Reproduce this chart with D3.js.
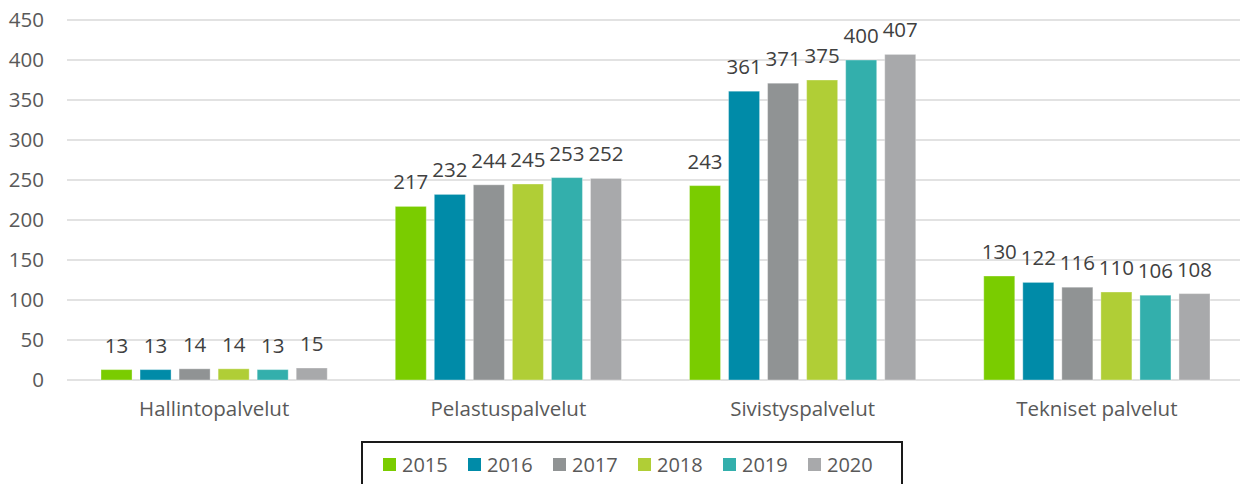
<!DOCTYPE html>
<html>
<head>
<meta charset="utf-8">
<script src="https://cdn.jsdelivr.net/npm/d3@7"></script>
<style>
  body { margin: 0; background: #fff; }
  svg { font-family: "Open Sans", sans-serif; }
</style>
</head>
<body>
<svg id="chart" width="1242" height="484"></svg>
<script>
const categories = ['Hallintopalvelut', 'Pelastuspalvelut', 'Sivistyspalvelut', 'Tekniset palvelut'];
const years = ['2015', '2016', '2017', '2018', '2019', '2020'];
const values2015 = [13, 217, 243, 130];
const values2016 = [13, 232, 361, 122];
const values2017 = [14, 244, 371, 116];
const values2018 = [14, 245, 375, 110];
const values2019 = [13, 253, 400, 106];
const values2020 = [15, 252, 407, 108];
const yTicks = [0, 50, 100, 150, 200, 250, 300, 350, 400, 450];
const colors = ['#7acc00', '#008ba8', '#909394', '#b0ce36', '#33afac', '#a8a9ab'];

const series = [values2015, values2016, values2017, values2018, values2019, values2020];

const svg = d3.select('#chart');
const plotLeft = 67, plotRight = 1244, plotTop = 20, plotBottom = 380;
const gridRight = 1240;

const x0 = d3.scaleBand().domain(categories).range([plotLeft, plotRight]);
const x1 = d3.scaleBand().domain(years)
  .range([34, x0.bandwidth() - 34])
  .paddingInner(8 / 39);
const y = d3.scaleLinear().domain([0, 450]).range([plotBottom, plotTop]);
const color = d3.scaleOrdinal().domain(years).range(colors);

// gridlines
svg.append('g').selectAll('line').data(yTicks).enter().append('line')
  .attr('x1', plotLeft).attr('x2', gridRight)
  .attr('y1', d => y(d)).attr('y2', d => y(d))
  .style('stroke', '#d9d9d9')
  .style('stroke-width', 1.3);

// y axis labels
const yAxis = d3.axisLeft(y).tickValues(yTicks).tickSize(0).tickPadding(0);
svg.append('g')
  .attr('transform', `translate(44,0)`)
  .call(yAxis)
  .call(g => g.select('.domain').remove())
  .selectAll('text')
  .style('font-family', '"Open Sans", sans-serif')
  .style('font-size', '20.5px')
  .style('fill', '#595959');

// bars
const groups = svg.append('g').selectAll('g').data(categories).enter().append('g')
  .attr('transform', d => `translate(${x0(d)},0)`);

groups.selectAll('rect')
  .data((c, i) => years.map((yr, j) => ({ year: yr, value: series[j][i] })))
  .enter().append('rect')
  .attr('x', d => x1(d.year))
  .attr('width', x1.bandwidth())
  .attr('y', d => y(d.value))
  .attr('height', d => y(0) - y(d.value))
  .attr('fill', d => color(d.year))
  .style('stroke', 'rgba(255,255,255,0.35)')
  .style('stroke-width', 1);

groups.selectAll('text')
  .data((c, i) => years.map((yr, j) => ({ year: yr, value: series[j][i] })))
  .enter().append('text')
  .attr('x', d => x1(d.year) + x1.bandwidth() / 2)
  .attr('y', d => y(d.value) - 17)
  .attr('text-anchor', 'middle')
  .style('font-size', '20.5px')
  .style('fill', '#404040')
  .text(d => d.value);

// category labels
const xAxis = d3.axisBottom(x0).tickSize(0).tickPadding(0);
svg.append('g')
  .attr('transform', `translate(0,${plotBottom + 21})`)
  .call(xAxis)
  .call(g => g.select('.domain').remove())
  .selectAll('text')
  .style('font-family', '"Open Sans", sans-serif')
  .style('font-size', '20.5px')
  .style('fill', '#595959');

// legend
const legend = svg.append('g');
legend.append('rect')
  .attr('x', 362).attr('y', 442)
  .attr('width', 540).attr('height', 60)
  .attr('fill', 'none')
  .style('stroke', '#1a1a1a')
  .style('stroke-width', 2);

const lx = d3.scaleBand().domain(years).range([383, 383 + 85 * 6]);
const item = legend.selectAll('g.item').data(years).enter().append('g')
  .attr('class', 'item')
  .attr('transform', d => `translate(${lx(d)},458)`);
item.append('rect')
  .attr('width', 13).attr('height', 13)
  .attr('fill', d => color(d));
item.append('text')
  .attr('x', 19).attr('y', 14)
  .style('font-size', '20px')
  .style('fill', '#595959')
  .text(d => d);
</script>
</body>
</html>
